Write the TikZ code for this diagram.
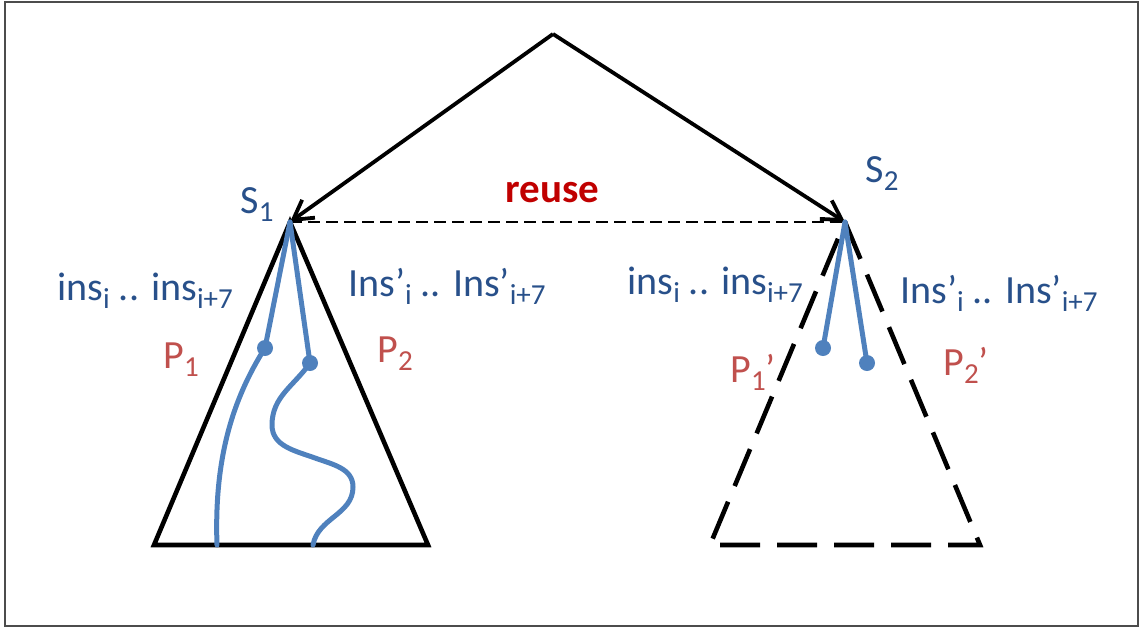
\documentclass[tikz,border=0pt]{standalone}
\usepackage{fontspec}
\setmainfont{Carlito}
\usetikzlibrary{arrows.meta}
\definecolor{labblue}{RGB}{40,80,138}
\definecolor{pathblue}{RGB}{79,129,189}
\definecolor{labred}{RGB}{192,80,77}
\definecolor{reusered}{RGB}{192,0,0}
\newcommand{\lowr}[1]{\raisebox{-0.45ex}{\fontsize{14.5}{15}\selectfont #1}}

\begin{document}
\begin{tikzpicture}[x=0.5pt, y=-0.5pt,
  font=\fontsize{20}{22}\selectfont,
  lab/.style={anchor=base west, inner sep=0pt, text=labblue},
  plab/.style={anchor=base west, inner sep=0pt, text=labred},
  tree/.style={line width=2.3pt, line join=miter},
  ghost/.style={tree, dash pattern=on 20pt off 8.5pt},
  arr/.style={-{Straight Barb[length=9.5pt, width=11pt]}, line width=1.9pt},
  bpath/.style={pathblue, line width=2.5pt, line cap=round},
  dot/.style={fill=pathblue}
]
\useasboundingbox (0,0) rectangle (1144,628);
\draw[gray!60!black, line width=1pt] (5,2) rectangle (1138,626);

\coordinate (top) at (553,34);
\coordinate (s1) at (290,222);
\coordinate (s2) at (845,222);
\coordinate (a1) at (265,348);
\coordinate (a2) at (310,363);
\coordinate (b1) at (823,348);
\coordinate (b2) at (867,363);

% subtrees
\draw[tree] (s1) -- (154,545) -- (428,545) -- cycle;
\draw[ghost] (s2) -- (980,545) -- (710,545) -- cycle;

% calls and reuse
\draw[arr] (top) -- (s1);
\draw[arr] (top) -- (s2);
\draw[line width=1pt, dash pattern=on 6pt off 3pt] (s1) -- (s2);
\node[anchor=base west, inner sep=0pt, text=reusered, font=\fontsize{20.5}{22}\selectfont\bfseries] (reuse) at (505,202) {reuse};

% paths
\draw[bpath] (s1) -- (a1);
\draw[bpath] (s1) -- (a2);
\draw[bpath] (a1) .. controls (232,400) and (214,460) .. (217,545);
\draw[bpath] (a2) to[out=-125,in=90] (272,425) to[out=-90,in=160] (315,458)
  to[out=-20,in=90] (353,487) to[out=-90,in=80] (313,545);
\draw[bpath] (s2) -- (b1);
\draw[bpath] (s2) -- (b2);
\foreach \p in {a1,a2,b1,b2}
  \fill[dot] (\p) circle (4pt);

% labels
\node[lab] (s1lab) at (240,213) {S\lowr{1}};
\node[lab] (s2lab) at (865,182) {S\lowr{2}};
\node[lab] (insl) at (57,300) {ins\lowr{i} .. ins\lowr{i+7}};
\node[lab] (Insl) at (348,296) {Ins’\lowr{i} .. Ins’\lowr{i+7}};
\node[lab] (insr) at (627,294) {ins\lowr{i} .. ins\lowr{i+7}};
\node[lab] (Insr) at (900,303) {Ins’\lowr{i} .. Ins’\lowr{i+7}};
\node[plab] (p1) at (163,368) {P\lowr{1}};
\node[plab] (p2) at (377,362) {P\lowr{2}};
\node[plab] (p1x) at (730,382) {P\lowr{1}’};
\node[plab] (p2x) at (943,375) {P\lowr{2}’};
\end{tikzpicture}
\end{document}
